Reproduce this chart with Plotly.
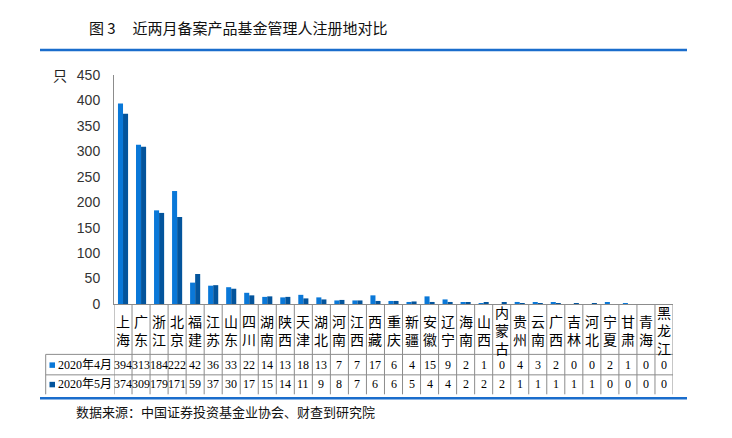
import plotly.graph_objects as go

categories = ["上海", "广东", "浙江", "北京", "福建", "江苏", "山东", "四川", "湖南", "陕西",
              "天津", "湖北", "河南", "江西", "西藏", "重庆", "新疆", "安徽", "辽宁", "海南",
              "山西", "内蒙古", "贵州", "云南", "广西", "吉林", "河北", "宁夏", "甘肃", "青海", "黑龙江"]
apr = [394, 313, 184, 222, 42, 36, 33, 22, 14, 13, 18, 13, 7, 7, 17, 6, 4, 15, 9, 2,
       1, 0, 4, 3, 2, 0, 0, 2, 1, 0, 0]
may = [374, 309, 179, 171, 59, 37, 30, 17, 15, 14, 11, 9, 8, 7, 6, 6, 5, 4, 4, 2,
       2, 2, 1, 1, 1, 1, 1, 0, 0, 0, 0]
series_names = ["2020年4月", "2020年5月"]
y_ticks = [0, 50, 100, 150, 200, 250, 300, 350, 400, 450]

title_text = "图\u00a03\u00a0\u00a0\u00a0\u00a0\u00a0近两月备案产品基金管理人注册地对比"
source_text = "数据来源：中国证券投资基金业协会、财查到研究院"
unit_text = "只"

# browser body margin (8px) compensation
OFF = 8
W, H = 732 - OFF, 438 - OFF
PL, PR, PT, PB = 114, 673, 75, 304.5  # reference pixel positions of plot area
C_APR = "#0a78d8"
C_MAY = "#03549c"
GRID = "#8c8c8c"
LINE_BLUE = "#1a6dcc"


def xp(px):
    return (px - PL) / (PR - PL)


def yp(py):
    return (PB - py) / (PB - PT)


fig = go.Figure()
fig.add_trace(go.Bar(x=list(range(len(categories))), y=apr, name=series_names[0],
                     marker=dict(color=C_APR, line=dict(width=0))))
fig.add_trace(go.Bar(x=list(range(len(categories))), y=may, name=series_names[1],
                     marker=dict(color=C_MAY, line=dict(width=0))))

n = len(categories)
shapes = []
annotations = []

# table vertical lines
for k in range(n + 1):
    shapes.append(dict(type="line", xref="x", yref="paper", x0=k - 0.5, x1=k - 0.5,
                       y0=yp(PB), y1=yp(395), line=dict(color=GRID, width=1)))
# legend cell left line
shapes.append(dict(type="line", xref="paper", yref="paper", x0=xp(45.7), x1=xp(45.7),
                   y0=yp(355), y1=yp(395), line=dict(color=GRID, width=1)))
# horizontal lines
for py in [355, 375.5]:
    shapes.append(dict(type="line", xref="paper", yref="paper", x0=xp(45.7), x1=xp(PR),
                       y0=yp(py), y1=yp(py), line=dict(color=GRID, width=1)))
# legend keys
for i, c in enumerate([C_APR, C_MAY]):
    cy = [365.5, 385][i]
    shapes.append(dict(type="rect", xref="paper", yref="paper", x0=xp(49.5), x1=xp(55),
                       y0=yp(cy + 3), y1=yp(cy - 2.5), fillcolor=c, line=dict(width=0)))
    annotations.append(dict(xref="paper", yref="paper", x=xp(56), y=yp(cy), text=series_names[i],
                            showarrow=False, xanchor="left", yanchor="middle",
                            font=dict(family="Liberation Serif, Noto Sans CJK SC", size=12, color="#000")))
# blue rules
for py in [50, 399]:
    shapes.append(dict(type="line", xref="paper", yref="paper", x0=xp(40), x1=xp(687),
                       y0=yp(py), y1=yp(py), line=dict(color=LINE_BLUE, width=2.5)))

# category labels and table values
for i, cat in enumerate(categories):
    annotations.append(dict(xref="x", yref="paper", x=i, y=yp(330.5), text="<br>".join(cat),
                            showarrow=False, xanchor="center", yanchor="middle",
                            font=dict(family="Noto Sans CJK SC", size=14, color="#000")))
    annotations.append(dict(xref="x", yref="paper", x=i, y=yp(365.5), text=str(apr[i]),
                            showarrow=False, xanchor="center", yanchor="middle",
                            font=dict(family="Liberation Serif", size=12, color="#000")))
    annotations.append(dict(xref="x", yref="paper", x=i, y=yp(385), text=str(may[i]),
                            showarrow=False, xanchor="center", yanchor="middle",
                            font=dict(family="Liberation Serif", size=12, color="#000")))

# title, unit, source
annotations.append(dict(xref="paper", yref="paper", x=xp(87), y=yp(27), text=title_text,
                        showarrow=False, xanchor="left", yanchor="middle",
                        font=dict(family="Noto Sans CJK SC", size=15, color="#111")))
annotations.append(dict(xref="paper", yref="paper", x=xp(60), y=yp(75), text=unit_text,
                        showarrow=False, xanchor="center", yanchor="middle",
                        font=dict(family="Noto Sans CJK SC", size=14, color="#222")))
annotations.append(dict(xref="paper", yref="paper", x=xp(74), y=yp(412), text=source_text,
                        showarrow=False, xanchor="left", yanchor="middle",
                        font=dict(family="Noto Sans CJK SC", size=13, color="#111")))

fig.update_layout(
    width=W, height=H,
    margin=dict(l=PL - OFF, r=W - (PR - OFF), t=PT - OFF, b=H - (PB - OFF), pad=0),
    paper_bgcolor="white", plot_bgcolor="white",
    barmode="group", bargap=0.44, bargroupgap=0,
    showlegend=False,
    shapes=shapes, annotations=annotations,
    xaxis=dict(range=[-0.5, n - 0.5], showticklabels=False, showgrid=False, zeroline=False,
               showline=True, linecolor=GRID, linewidth=1, ticks=""),
    yaxis=dict(range=[0, 450], tickvals=y_ticks, showgrid=False, zeroline=False,
               showline=True, linecolor=GRID, linewidth=1, ticks="",
               ticklabelstandoff=10,
               tickfont=dict(family="Liberation Sans", size=14, color="#333")),
)

fig.write_html("out.html")
